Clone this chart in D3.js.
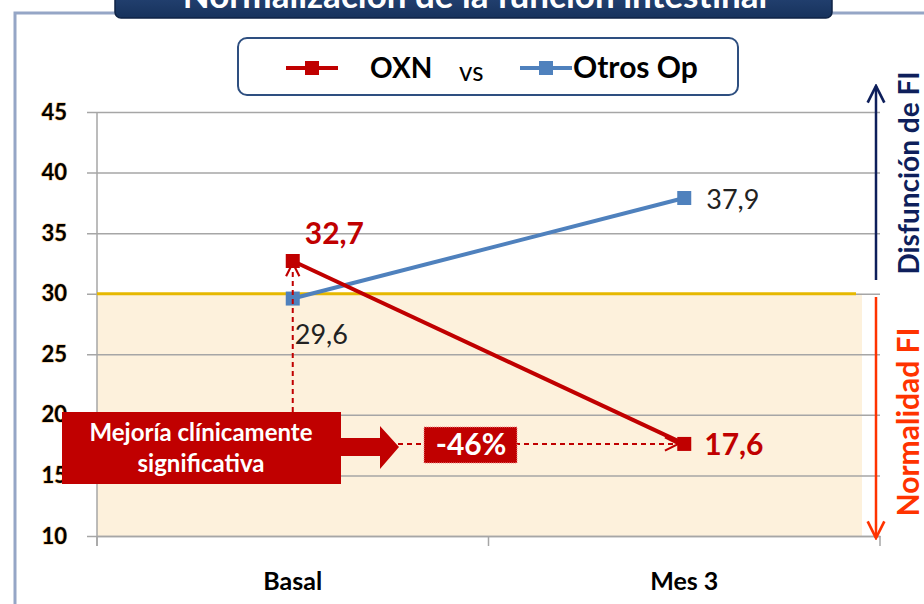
<!DOCTYPE html>
<html>
<head>
<meta charset="utf-8">
<script src="https://cdn.jsdelivr.net/npm/d3@7"></script>
<style>
  body { margin: 0; background: #fff; }
  text { font-family: Lato, "Open Sans", sans-serif; }
</style>
</head>
<body>
<div id="chart"></div>
<script>
// data
var categories = ["Basal", "Mes 3"],
  oxn = [32.7, 17.6],
  otros = [29.6, 37.9],
  oxnLabels = ["32,7", "17,6"],
  otrosLabels = ["29,6", "37,9"],
  yTicks = [10, 15, 20, 25, 30, 35, 40, 45],
  threshold = 30,
  mejoria = "-46%";

// placement
var W = 924, H = 604;
var mLeft = 97, mRight = 880, mTop = 112, mBottom = 536;

var svg = d3.select("#chart").append("svg")
  .attr("width", W).attr("height", H);

var defs = svg.append("defs");
function marker(id, color, w) {
  defs.append("marker")
    .attr("id", id).attr("viewBox", "0 0 12 12")
    .attr("refX", 11).attr("refY", 6)
    .attr("markerWidth", w).attr("markerHeight", w)
    .attr("markerUnits", "userSpaceOnUse")
    .attr("orient", "auto")
    .append("path").attr("d", "M1,1 L11,6 L1,11")
    .attr("fill", "none").attr("stroke", color).attr("stroke-width", 1.6);
}
marker("arrRed", "#c00000", 16);
marker("arrNavy", "#0e1f5b", 20);
marker("arrOrange", "#ff3300", 20);

var grad = defs.append("linearGradient").attr("id", "titleGrad")
  .attr("x1", 0).attr("y1", 0).attr("x2", 0).attr("y2", 1);
grad.append("stop").attr("offset", "0%").attr("stop-color", "#2b4c80");
grad.append("stop").attr("offset", "100%").attr("stop-color", "#17325c");

// scales
var x = d3.scaleBand().domain(categories).range([mLeft, mRight]);
var y = d3.scaleLinear().domain([10, 45]).range([mBottom, mTop]);
var cx = function(c) { return x(c) + x.bandwidth() / 2; };

// outer frame
svg.append("path")
  .attr("d", "M15,604 L15,13 L924,13")
  .attr("fill", "none").attr("stroke", "#95a6c6").attr("stroke-width", 3);

// title box (cut at top)
svg.append("rect")
  .attr("x", 115).attr("y", -20).attr("width", 717).attr("height", 38)
  .attr("rx", 6).attr("fill", "url(#titleGrad)").attr("stroke", "#0f2345").attr("stroke-width", 1.5);
svg.append("text")
  .attr("x", 475).attr("y", 8).attr("text-anchor", "middle")
  .attr("fill", "#fff").attr("font-weight", "bold").attr("font-size", 35)
  .text("Normalización de la función intestinal");

// normal zone
svg.append("rect")
  .attr("x", mLeft).attr("y", y(threshold))
  .attr("width", 765).attr("height", y(10) - y(threshold))
  .attr("fill", "#fdf1dc");

// gridlines + y axis
var yAxis = d3.axisLeft(y).tickValues(yTicks).tickSize(-(mRight - mLeft)).tickPadding(30)
  .tickFormat(d3.format("d"));
var gy = svg.append("g").attr("transform", "translate(" + mLeft + ",0)").call(yAxis);
gy.select(".domain").remove();
gy.selectAll(".tick line").attr("stroke", "#a6a6a6").attr("stroke-width", 1.5).attr("x1", -10);
gy.selectAll(".tick text")
  .attr("font-size", 22).attr("font-weight", "bold").attr("fill", "#000")
  .attr("font-family", "Lato, sans-serif")
  .style("paint-order", "stroke").attr("stroke", "#f6c98a").attr("stroke-width", 1.2);

// left axis line
svg.append("line")
  .attr("x1", mLeft).attr("x2", mLeft).attr("y1", mTop).attr("y2", mBottom + 10)
  .attr("stroke", "#a6a6a6").attr("stroke-width", 1.5);

// x axis
var xAxis = d3.axisBottom(x).tickSize(0).tickPadding(36);
var gx = svg.append("g").attr("transform", "translate(0," + mBottom + ")").call(xAxis);
gx.select(".domain").attr("stroke", "#a6a6a6").attr("stroke-width", 1.5);
gx.selectAll(".tick text")
  .attr("font-size", 25).attr("font-weight", "bold").attr("fill", "#000")
  .attr("font-family", "Lato, sans-serif");
gx.selectAll(".bnd").data([mLeft, x("Mes 3"), mRight]).enter().append("line")
  .attr("x1", function(d) { return d; }).attr("x2", function(d) { return d; })
  .attr("y1", 0).attr("y2", 10).attr("stroke", "#a6a6a6").attr("stroke-width", 1.5);

// threshold line
svg.append("line")
  .attr("x1", mLeft).attr("x2", 856).attr("y1", y(threshold)).attr("y2", y(threshold))
  .attr("stroke", "#e6b800").attr("stroke-width", 3);

// lines
var line = d3.line().x(function(d, i) { return cx(categories[i]); }).y(function(d) { return y(d); });
function series(vals, color) {
  svg.append("path").datum(vals).attr("d", line)
    .attr("fill", "none").attr("stroke", color).attr("stroke-width", 4);
  svg.selectAll(null).data(vals).enter().append("rect")
    .attr("x", function(d, i) { return cx(categories[i]) - 7; })
    .attr("y", function(d) { return y(d) - 7; })
    .attr("width", 14).attr("height", 14).attr("fill", color);
}
series(otros, "#4f81bd");
series(oxn, "#c00000");

// dashed arrows
var bx = cx("Basal"), mx = cx("Mes 3"), yy = y(oxn[1]);
svg.append("line")
  .attr("x1", bx).attr("x2", bx).attr("y1", 412).attr("y2", y(oxn[0]) + 2)
  .attr("stroke", "#c00000").attr("stroke-width", 2).attr("stroke-dasharray", "5,4")
  .attr("marker-end", "url(#arrRed)");
svg.append("line")
  .attr("x1", 398).attr("x2", mx - 6).attr("y1", yy).attr("y2", yy)
  .attr("stroke", "#c00000").attr("stroke-width", 2).attr("stroke-dasharray", "5,4")
  .attr("marker-end", "url(#arrRed)");

// value labels
svg.append("text").attr("x", bx + 12).attr("y", y(oxn[0]) - 17)
  .attr("fill", "#c00000").attr("font-weight", "bold").attr("font-size", 30).text(oxnLabels[0]);
svg.append("text").attr("x", mx + 20).attr("y", yy + 11)
  .attr("fill", "#c00000").attr("font-weight", "bold").attr("font-size", 30).text(oxnLabels[1]);
svg.append("text").attr("x", mx + 22).attr("y", y(otros[1]) + 11)
  .attr("fill", "#222").attr("font-size", 27).text(otrosLabels[1]);
svg.append("text").attr("x", bx + 2).attr("y", y(otros[0]) + 45)
  .attr("fill", "#222").attr("font-size", 27).text(otrosLabels[0]);

// mejoria arrow box
svg.append("path")
  .attr("d", "M62,412 L341,412 L341,438 L380,438 L380,426 L399,447 L380,469 L380,456 L341,456 L341,484 L62,484 Z")
  .attr("fill", "#c00000");
svg.append("text").attr("x", 201).attr("y", 441).attr("text-anchor", "middle")
  .attr("fill", "#fff").attr("font-weight", "bold").attr("font-size", 24).text("Mejoría clínicamente");
svg.append("text").attr("x", 201).attr("y", 472).attr("text-anchor", "middle")
  .attr("fill", "#fff").attr("font-weight", "bold").attr("font-size", 24).text("significativa");

// -46% box
svg.append("rect").attr("x", 424).attr("y", 427).attr("width", 93).attr("height", 36)
  .attr("fill", "#c00000").attr("stroke", "#e88").attr("stroke-width", 1).attr("stroke-dasharray", "1,1");
svg.append("text").attr("x", 471).attr("y", 455).attr("text-anchor", "middle")
  .attr("fill", "#fff").attr("font-weight", "bold").attr("font-size", 30).text(mejoria);

// right side arrows
svg.append("line").attr("x1", 876).attr("x2", 876).attr("y1", 280).attr("y2", 86)
  .attr("stroke", "#0e1f5b").attr("stroke-width", 2.5).attr("marker-end", "url(#arrNavy)");
svg.append("line").attr("x1", 876).attr("x2", 876).attr("y1", 297).attr("y2", 538)
  .attr("stroke", "#ff3300").attr("stroke-width", 2.5).attr("marker-end", "url(#arrOrange)");
svg.append("text").attr("transform", "translate(919,173) rotate(-90)").attr("text-anchor", "middle")
  .attr("fill", "#0e1f5b").attr("font-weight", "bold").attr("font-size", 28).text("Disfunción de FI");
svg.append("text").attr("transform", "translate(919,422) rotate(-90)").attr("text-anchor", "middle")
  .attr("fill", "#ff3300").attr("font-weight", "bold").attr("font-size", 30).text("Normalidad FI");

// legend
svg.append("rect").attr("x", 238).attr("y", 38).attr("width", 500).attr("height", 57)
  .attr("rx", 9).attr("fill", "#fff").attr("stroke", "#2e4f80").attr("stroke-width", 2);
svg.append("line").attr("x1", 286).attr("x2", 338).attr("y1", 68).attr("y2", 68)
  .attr("stroke", "#c00000").attr("stroke-width", 4);
svg.append("rect").attr("x", 305).attr("y", 61).attr("width", 14).attr("height", 14).attr("fill", "#c00000");
svg.append("text").attr("x", 370).attr("y", 78).attr("font-weight", "bold").attr("font-size", 28)
  .attr("fill", "#000").text("OXN");
svg.append("text").attr("x", 459).attr("y", 81).attr("font-size", 26).attr("fill", "#000").text("vs");
svg.append("line").attr("x1", 520).attr("x2", 572).attr("y1", 68).attr("y2", 68)
  .attr("stroke", "#4f81bd").attr("stroke-width", 4);
svg.append("rect").attr("x", 539).attr("y", 61).attr("width", 14).attr("height", 14).attr("fill", "#4f81bd");
svg.append("text").attr("x", 573).attr("y", 78).attr("font-weight", "bold").attr("font-size", 30)
  .attr("fill", "#000").text("Otros Op");
</script>
</body>
</html>
